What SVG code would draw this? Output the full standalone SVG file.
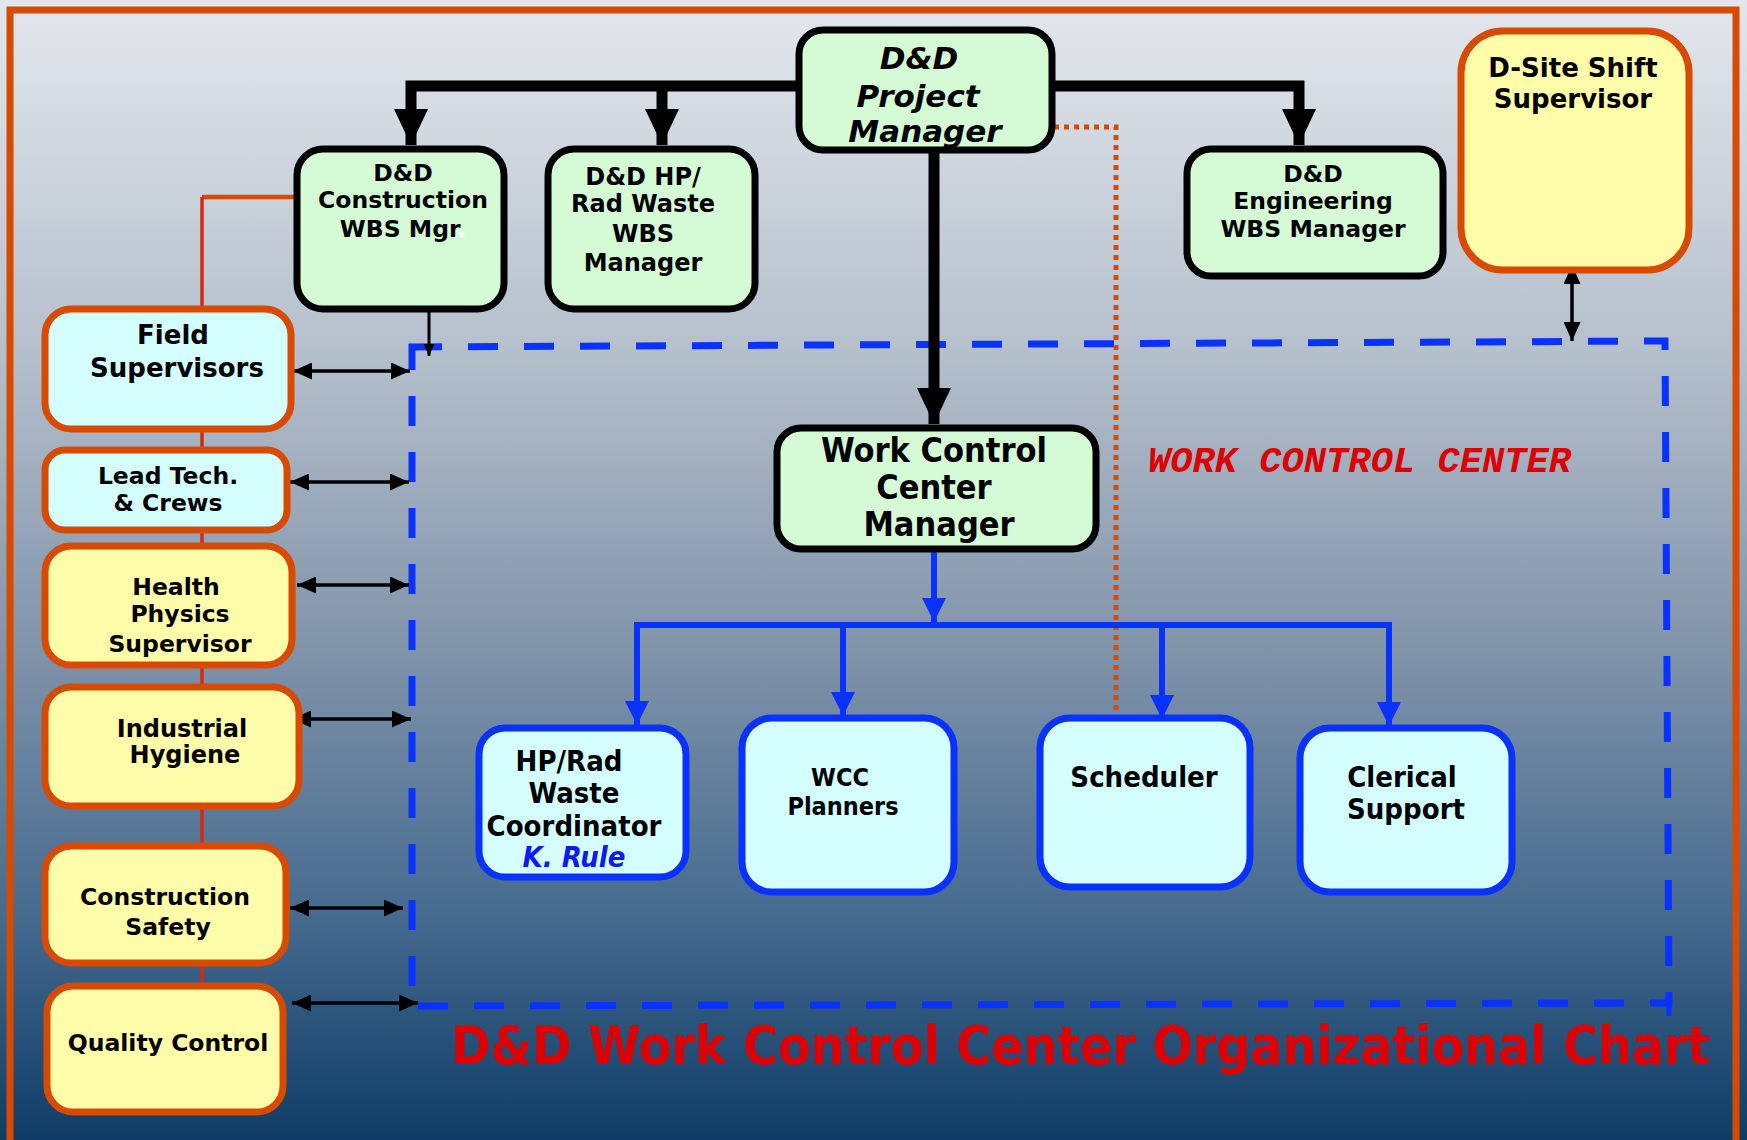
<svg xmlns="http://www.w3.org/2000/svg" width="1747" height="1140" viewBox="0 0 1747 1140">
  <defs>
    <linearGradient id="bg" x1="0" y1="0" x2="0" y2="1">
      <stop offset="0" stop-color="#e3e7ed"/>
      <stop offset="0.3" stop-color="#b6c1cd"/>
      <stop offset="0.55" stop-color="#8597ac"/>
      <stop offset="0.8" stop-color="#466b8f"/>
      <stop offset="1" stop-color="#0f3c66"/>
    </linearGradient>
    <marker id="headBig" viewBox="0 0 36 34" refX="36" refY="17" markerWidth="36" markerHeight="34" markerUnits="userSpaceOnUse" orient="auto">
      <path d="M0,0 L36,17 L0,34 Z" fill="#000"/>
    </marker>
    <marker id="headBlue" viewBox="0 0 24 24" refX="24" refY="12" markerWidth="24" markerHeight="24" markerUnits="userSpaceOnUse" orient="auto">
      <path d="M0,0 L24,12 L0,24 Z" fill="#0a32ff"/>
    </marker>
    <marker id="headSmall" viewBox="0 0 19 17" refX="19" refY="8.5" markerWidth="19" markerHeight="17" markerUnits="userSpaceOnUse" orient="auto-start-reverse">
      <path d="M0,0 L19,8.5 L0,17 Z" fill="#000"/>
    </marker>
    <marker id="headTiny" viewBox="0 0 12 11" refX="12" refY="5.5" markerWidth="12" markerHeight="11" markerUnits="userSpaceOnUse" orient="auto">
      <path d="M0,0 L12,5.5 L0,11 Z" fill="#000"/>
    </marker>
  </defs>
  <style>
    .lbl { font-family: "DejaVu Sans", Verdana, sans-serif; font-weight: bold; fill: #000; text-anchor: middle; }
    .cnd { font-family: "DejaVu Sans Condensed", "DejaVu Sans", sans-serif; font-stretch: condensed; }
    .ital { font-style: italic; }
    .mgr rect { fill: #d5fbd5; stroke: #000; stroke-width: 7; }
    .sup rect { stroke: #d84a00; stroke-width: 7; }
    .cyan rect { fill: #d5ffff; }
    .yel rect { fill: #fffcaa; }
    .wcc rect { fill: #d5ffff; stroke: #0a32ff; stroke-width: 7; }
    .thick { fill: none; stroke: #000; stroke-width: 11; }
    .blue { fill: none; stroke: #0a32ff; stroke-width: 6; }
    .dbl { fill: none; stroke: #000; stroke-width: 3.5; marker-start: url(#headSmall); marker-end: url(#headSmall); }
  </style>

  <!-- backdrop and frame -->
  <rect x="0" y="0" width="1747" height="1140" fill="url(#bg)"/>
  <path d="M10,1145 V10 H1736 V1145" fill="none" stroke="#d84a00" stroke-width="7"/>

  <g id="connectors">
    <!-- work control center boundary -->
    <path d="M412,347 L1665,341 L1669,1003 L412,1006 Z" fill="none" stroke="#0a32ff" stroke-width="7" stroke-dasharray="30 26"/>
    <path d="M1669,1003 V1016" stroke="#0a32ff" stroke-width="5"/>

    <!-- project manager lines -->
    <path class="thick" d="M799,86 H411 V145" marker-end="url(#headBig)"/>
    <path class="thick" d="M662,86 V145" marker-end="url(#headBig)"/>
    <path class="thick" d="M1052,86 H1299 V145" marker-end="url(#headBig)"/>
    <path class="thick" d="M934,150 V424" marker-end="url(#headBig)"/>

    <!-- dotted line to scheduler -->
    <path d="M1054,127 H1116 V719" fill="none" stroke="#d84a00" stroke-width="5" stroke-dasharray="5 5"/>

    <!-- construction side line -->
    <path d="M297,197 H202" fill="none" stroke="#d84a00" stroke-width="4.5"/>
    <path d="M202,197 V986" fill="none" stroke="#d42a12" stroke-width="3.5"/>
    <path d="M429,309 V356" fill="none" stroke="#000" stroke-width="3" marker-end="url(#headTiny)"/>

    <!-- work control center manager branches -->
    <path class="blue" d="M934,549 V622" marker-end="url(#headBlue)"/>
    <path class="blue" d="M637,725 V625 H1389 V726" marker-end="url(#headBlue)"/>
    <path class="blue" d="M843,625 V716" marker-end="url(#headBlue)"/>
    <path class="blue" d="M1162,625 V719" marker-end="url(#headBlue)"/>
    <path class="blue" d="M637,625 V725" marker-end="url(#headBlue)"/>

    <!-- two-way links to the work control center -->
    <path class="dbl" d="M293,371 H410"/>
    <path class="dbl" d="M290,482 H409"/>
    <path class="dbl" d="M297,585 H409"/>
    <path class="dbl" d="M292,719 H411"/>
    <path class="dbl" d="M290,908 H403"/>
    <path class="dbl" d="M292,1003 H418"/>
    <path class="dbl" d="M1572,265 V341"/>
  </g>

  <!-- management -->
  <g id="project-manager" class="mgr">
    <rect x="799" y="30" width="253" height="120" rx="24"/>
    <text class="lbl ital" font-size="31" x="919" y="69">D&amp;D</text>
    <text class="lbl ital" font-size="31" x="918" y="107">Project</text>
    <text class="lbl ital" font-size="31" x="925" y="142">Manager</text>
  </g>
  <g id="construction-mgr" class="mgr">
    <rect x="297" y="149" width="207" height="160" rx="26"/>
    <text class="lbl" font-size="23.5" x="403" y="181">D&amp;D</text>
    <text class="lbl" font-size="23.5" x="403" y="208">Construction</text>
    <text class="lbl" font-size="23.5" x="403" y="237">WBS Mgr<tspan fill="#fff">.</tspan></text>
  </g>
  <g id="hp-rad-waste-mgr" class="mgr">
    <rect x="548" y="149" width="207" height="160" rx="26"/>
    <text class="lbl" font-size="24" x="643" y="185">D&amp;D HP/</text>
    <text class="lbl" font-size="24" x="643" y="212">Rad Waste</text>
    <text class="lbl" font-size="24" x="643" y="242">WBS</text>
    <text class="lbl" font-size="24" x="643" y="271">Manager</text>
  </g>
  <g id="engineering-mgr" class="mgr">
    <rect x="1187" y="149" width="256" height="127" rx="24"/>
    <text class="lbl" font-size="23.5" x="1313" y="182">D&amp;D</text>
    <text class="lbl" font-size="23.5" x="1313" y="209">Engineering</text>
    <text class="lbl" font-size="23.5" x="1313" y="237">WBS Manager</text>
  </g>
  <g id="d-site-shift-supervisor" class="sup yel">
    <rect x="1461" y="31" width="228" height="239" rx="42"/>
    <text class="lbl" font-size="26" x="1573" y="77">D-Site Shift</text>
    <text class="lbl" font-size="26" x="1573" y="108">Supervisor</text>
  </g>
  <g id="wcc-manager" class="mgr">
    <rect x="777" y="428" width="319" height="121" rx="24"/>
    <text class="lbl cnd" font-size="34" x="934" y="462">Work Control</text>
    <text class="lbl cnd" font-size="34" x="934" y="499">Center</text>
    <text class="lbl cnd" font-size="34" x="939" y="536">Manager</text>
  </g>

  <!-- field support column -->
  <g id="field-supervisors" class="sup cyan">
    <rect x="45" y="309" width="246" height="120" rx="26"/>
    <text class="lbl" font-size="26" x="173" y="344">Field</text>
    <text class="lbl" font-size="26" x="177" y="377">Supervisors</text>
  </g>
  <g id="lead-tech-crews" class="sup cyan">
    <rect x="45" y="450" width="242" height="80" rx="20"/>
    <text class="lbl" font-size="23.5" x="168" y="484">Lead Tech.</text>
    <text class="lbl" font-size="23.5" x="168" y="511">&amp; Crews</text>
  </g>
  <g id="health-physics-supervisor" class="sup yel">
    <rect x="45" y="546" width="247" height="119" rx="26"/>
    <text class="lbl" font-size="23.5" x="176" y="595">Health</text>
    <text class="lbl" font-size="23.5" x="180" y="622">Physics</text>
    <text class="lbl" font-size="23.5" x="180" y="652">Supervisor</text>
  </g>
  <g id="industrial-hygiene" class="sup yel">
    <rect x="45" y="687" width="254" height="119" rx="26"/>
    <text class="lbl" font-size="24" x="182" y="737">Industrial</text>
    <text class="lbl" font-size="24" x="185" y="763">Hygiene</text>
  </g>
  <g id="construction-safety" class="sup yel">
    <rect x="45" y="846" width="241" height="117" rx="26"/>
    <text class="lbl" font-size="23.5" x="165" y="905">Construction</text>
    <text class="lbl" font-size="23.5" x="168" y="935">Safety</text>
  </g>
  <g id="quality-control" class="sup yel">
    <rect x="47" y="986" width="236" height="126" rx="26"/>
    <text class="lbl" font-size="23.5" x="168" y="1051">Quality Control</text>
  </g>

  <!-- work control center staff -->
  <g id="hp-rad-coordinator" class="wcc">
    <rect x="479" y="728" width="207" height="149" rx="26"/>
    <text class="lbl cnd" font-size="29" x="569" y="771">HP/Rad</text>
    <text class="lbl cnd" font-size="29" x="574" y="803">Waste</text>
    <text class="lbl cnd" font-size="29" x="574" y="836">Coordinator</text>
    <text class="lbl cnd ital" font-size="29" x="574" y="867" style="fill:#0a1aff">K. Rule</text>
  </g>
  <g id="wcc-planners" class="wcc">
    <rect x="742" y="718" width="212" height="174" rx="30"/>
    <text class="lbl cnd" font-size="25" x="840" y="786">WCC</text>
    <text class="lbl cnd" font-size="25" x="843" y="815">Planners</text>
  </g>
  <g id="scheduler" class="wcc">
    <rect x="1040" y="718" width="210" height="169" rx="30"/>
    <text class="lbl cnd" font-size="29" x="1144" y="787">Scheduler</text>
  </g>
  <g id="clerical-support" class="wcc">
    <rect x="1300" y="728" width="212" height="164" rx="30"/>
    <text class="lbl cnd" font-size="29" x="1402" y="787">Clerical</text>
    <text class="lbl cnd" font-size="29" x="1406" y="819">Support</text>
  </g>

  <!-- captions -->
  <text x="1148" y="472" font-family="'Liberation Mono', 'Courier New', monospace" font-weight="bold" font-style="italic" font-size="36" fill="#dd0000" textLength="423" lengthAdjust="spacingAndGlyphs">WORK CONTROL CENTER</text>
  <text x="451" y="1064" font-family="'DejaVu Sans Condensed', 'DejaVu Sans', sans-serif" font-stretch="condensed" font-weight="bold" font-size="53" fill="#dd0000" textLength="1259" lengthAdjust="spacingAndGlyphs">D&amp;D Work Control Center Organizational Chart</text>
</svg>
